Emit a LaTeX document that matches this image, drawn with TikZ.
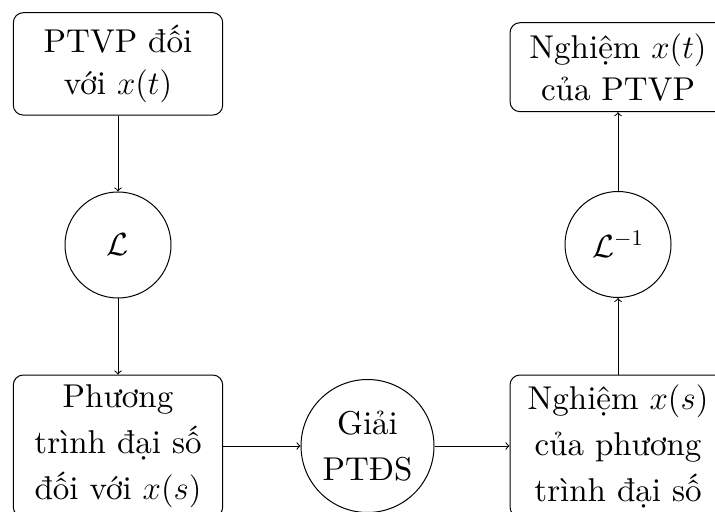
\RequirePackage{fix-cm}
\documentclass[tikz,border=0pt]{standalone}
\usepackage{fontspec}
\setmainfont{lmroman10-regular.otf}[BoldFont=lmroman10-bold.otf, ItalicFont=lmroman10-italic.otf]
\begin{document}
\begin{tikzpicture}[x=0.5pt,y=-0.5pt,
  box/.style={draw, rounded corners=5pt, line width=0.5pt, align=center, inner sep=0pt},
  circ/.style={draw, circle, line width=0.5pt, align=center, inner sep=0pt},
  conn/.style={->, line width=0.5pt},
  bigtxt/.style={font=\fontsize{16.5}{23}\selectfont},
  toptxt/.style={font=\fontsize{16.5}{21.2}\selectfont},
  optxt/.style={font=\fontsize{16}{19}\selectfont}]
\clip (0,0) rectangle (715,512);
\useasboundingbox (0,0) rectangle (715,512);
\node[box, toptxt, minimum width=104.7pt, minimum height=51.2pt] (a) at (118,63.9) {PTVP đối\\với $x(t)$};
\node[circ, optxt, minimum size=53pt] (l) at (118,245) {$\mathcal{L}$};
\node[box, bigtxt, minimum width=104.7pt, minimum height=71pt] (b) at (118,446) {Phương\\trình đại số\\đối với $x(s)$};
\node[circ, bigtxt, minimum size=66.5pt] (g) at (367.5,446) {Giải\\PTĐS};
\node[box, bigtxt, minimum width=108pt, minimum height=71pt] (c) at (618,446) {Nghiệm $x(s)$\\của phương\\trình đại số};
\node[circ, optxt, minimum size=53pt] (li) at (618,244.5) {$\mathcal{L}^{-1}$};
\node[box, toptxt, minimum width=108pt, minimum height=44.5pt] (d) at (618,67.2) {Nghiệm $x(t)$\\của PTVP};
\draw[conn] (a) -- (l);
\draw[conn] (l) -- (b);
\draw[conn] (b) -- (g);
\draw[conn] (g) -- (c);
\draw[conn] (c) -- (li);
\draw[conn] (li) -- (d);
\end{tikzpicture}
\end{document}
